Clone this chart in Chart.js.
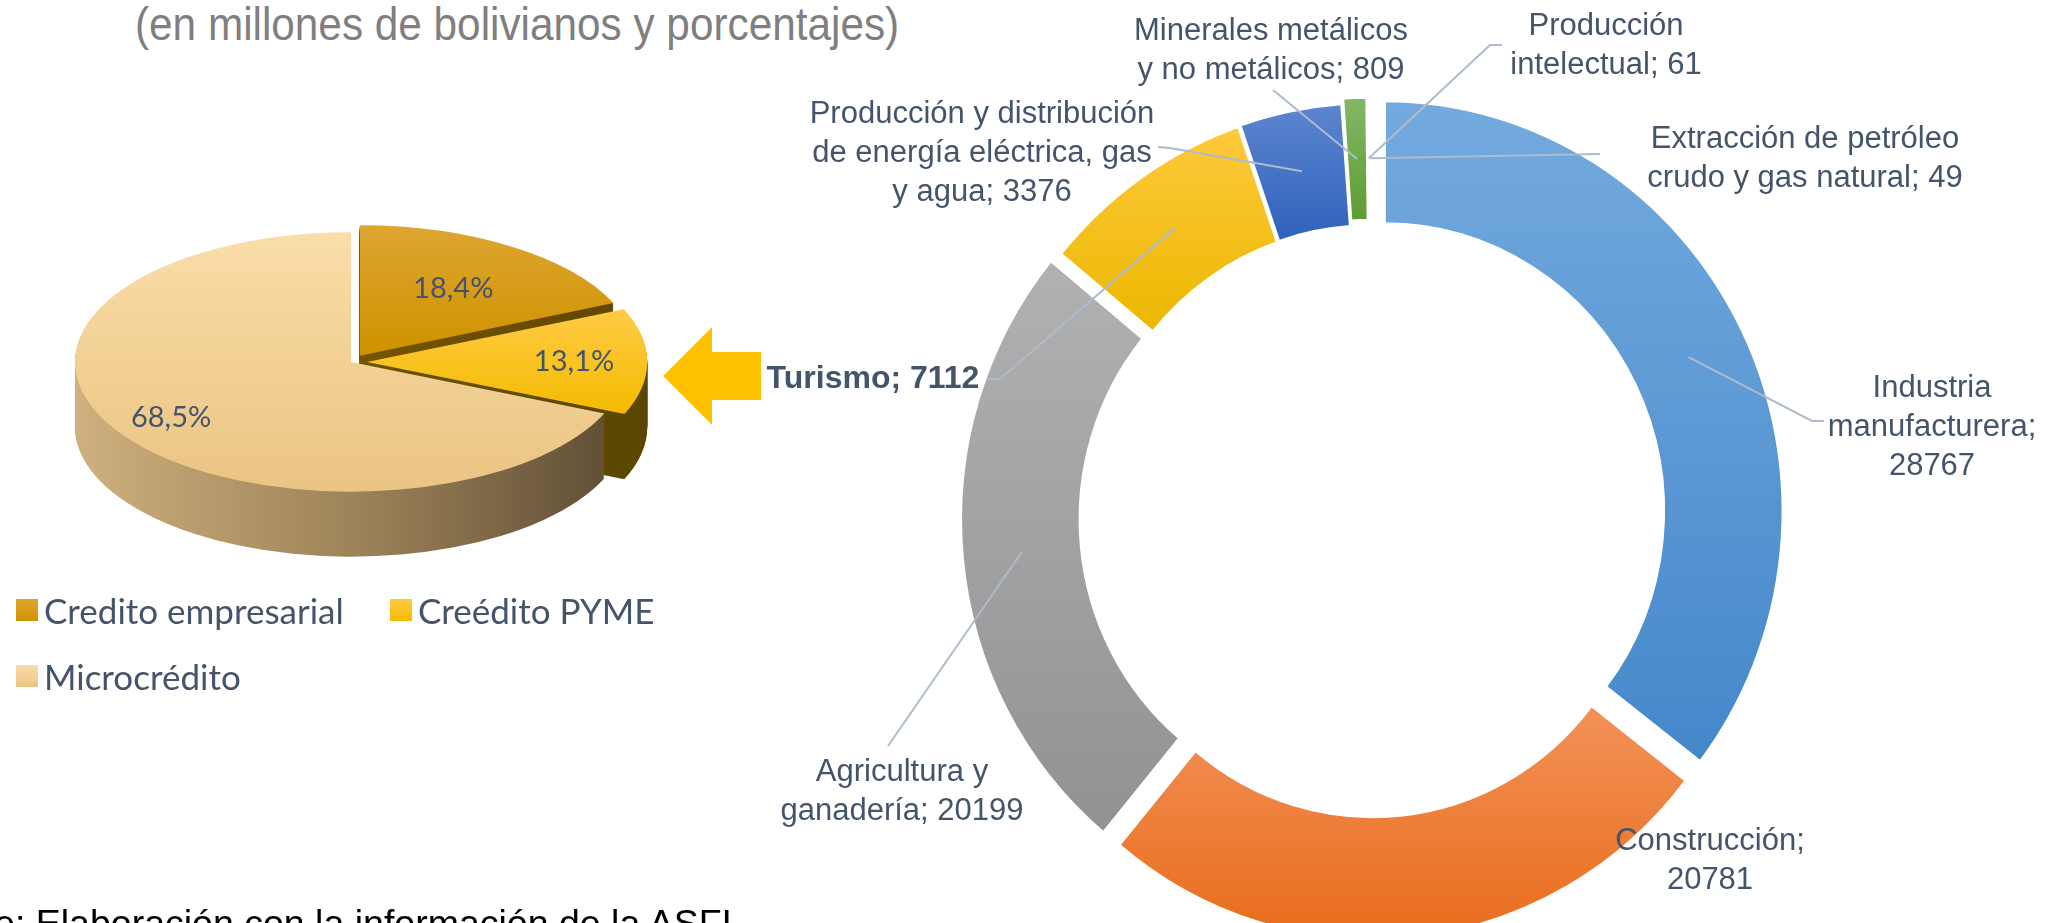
<!DOCTYPE html>
<html>
<head>
    <title>Cartera por destino del crédito</title>
    <meta charset="utf-8">
    <script src="https://cdn.jsdelivr.net/npm/chart.js@4.4.0/dist/chart.umd.min.js"></script>
    <style>
        body {
            margin: 0;
            width: 2051px;
            height: 923px;
            overflow: hidden;
            background: #fff;
            position: relative;
        }
        canvas {
            position: absolute;
            left: 0;
            top: 0;
        }
        #titulo {
            position: absolute;
            left: 135px;
            top: 0;
            font: 47px/47px "Liberation Sans", Arial, sans-serif;
            color: #7f7f7f;
            white-space: nowrap;
            transform: scaleX(0.9);
            transform-origin: left top;
        }
        #fuente {
            position: absolute;
            right: 1319px;
            top: 904px;
            font: 37.5px/38px "Liberation Sans", Arial, sans-serif;
            color: #000;
            white-space: nowrap;
        }
        #leyenda {
            position: absolute;
            left: 16px;
            top: 588px;
            width: 700px;
            display: flex;
            flex-wrap: wrap;
            font: 35px Lato, "Open Sans", sans-serif;
            color: #44546a;
        }
        .item {
            display: flex;
            align-items: center;
            height: 44px;
            width: 300px;
            margin-bottom: 22px;
            white-space: nowrap;
        }
        .item:first-child {
            width: 374px;
        }
        .cuadro {
            width: 22px;
            height: 22px;
            margin-right: 6px;
        }
    </style>
</head>
<body>
    <div id="titulo">(en millones de bolivianos y porcentajes)</div>
    <canvas id="tortaCredito" width="700" height="700"></canvas>
    <div id="leyenda"></div>
    <canvas id="anilloSectores" width="2051" height="923"></canvas>
    <div id="fuente">Fuente: Elaboración con la información de la ASFI</div>

    <script>
        // --- datos: cartera por tipo de crédito (%)
        const tiposCredito = ['Credito empresarial', 'Creédito PYME', 'Microcrédito'];
        const participacion = [18.4, 13.1, 68.5];

        // --- datos: crédito empresarial por sector (millones de Bs)
        const sectores = [
            'Industria manufacturera',
            'Construcción',
            'Agricultura y ganadería',
            'Turismo',
            'Producción y distribución de energía eléctrica, gas y agua',
            'Minerales metálicos y no metálicos',
            'Producción intelectual',
            'Extracción de petróleo crudo y gas natural'
        ];
        const montos = [28767, 20781, 20199, 7112, 3376, 809, 61, 49];

        // colores (arriba claro -> abajo oscuro, como el degradado de Excel)
        const sectorClaro = ['#74aade', '#f28f55', '#b1b1b1', '#ffc93d', '#5e86d0', '#84b767', '#2e4f88', '#a9521a'];
        const sectorOscuro = ['#4588ca', '#e86a18', '#929292', '#ebb800', '#2f62bb', '#5d9c33', '#203a68', '#8e3e0b'];
        const desplazamiento = [60, 56, 60, 20, 18, 27, 27, 27];

        const creditoClaro = ['#dfa634', '#ffcb45', '#fadda8'];
        const creditoOscuro = ['#cf9300', '#f3bb00', '#eac483'];
        const creditoLado = [
            ['#8a6400', '#5e4500'],
            ['#7a6000', '#5a4600'],
            ['#cfb07e', '#9c8258', '#584731']
        ];
        const radioRotulo = [0.62, 0.75, 0.78];

        // posiciones de los rótulos del anillo (centro x, y de la primera línea, ancho máx, guía)
        const etiquetas = [
            {x: 1932, y: 388, ancho: 240, guia: [[1824, 421], [1812, 421]]},
            {x: 1710, y: 841, ancho: 230, guia: []},
            {x: 902, y: 772, ancho: 260, guia: [[888, 746]]},
            {x: 873, y: 379, ancho: 400, guia: [[988, 379], [1000, 379]], negrita: true},
            {x: 982, y: 114, ancho: 352, guia: [[1158, 147], [1170, 148]]},
            {x: 1271, y: 31, ancho: 285, guia: [[1273, 90]]},
            {x: 1606, y: 26, ancho: 200, guia: [[1502, 45], [1490, 45]]},
            {x: 1805, y: 139, ancho: 330, guia: [[1600, 154]]}
        ];

        const K = 0.47;       // inclinación de la torta 3D
        const GROSOR = 65;    // espesor de la torta 3D
        const ESTIRA = 1.03;  // el anillo original está un poco estirado en vertical

        // degradado vertical por porción, según la geometría del propio arco
        function degradado(c, claro, oscuro) {
            const arc = c.element;
            const i = c.dataIndex;
            if (!arc || arc.outerRadius === undefined) return oscuro[i];
            const o = desplazamientoDe(c.dataset, i) / 4;
            const mid = (arc.startAngle + arc.endAngle) / 2;
            const cy = arc.y + Math.sin(mid) * o;
            let top = Infinity, bottom = -Infinity;
            for (let k = 0; k <= 24; k++) {
                const a = arc.startAngle + (arc.endAngle - arc.startAngle) * k / 24;
                [arc.innerRadius, arc.outerRadius].forEach(r => {
                    const yy = cy + Math.sin(a) * r;
                    top = Math.min(top, yy);
                    bottom = Math.max(bottom, yy);
                });
            }
            const g = c.chart.ctx.createLinearGradient(0, top, 0, bottom);
            g.addColorStop(0, claro[i]);
            g.addColorStop(1, oscuro[i]);
            return g;
        }

        function desplazamientoDe(dataset, i) {
            return Array.isArray(dataset.offset) ? (dataset.offset[i] || 0) : (dataset.offset || 0);
        }

        function centroPorcion(arc) {
            const o = (arc.options.offset || 0) / 4;
            const mid = (arc.startAngle + arc.endAngle) / 2;
            const fix = 1 - Math.sin(Math.min(Math.PI, arc.circumference));
            const r = (arc.innerRadius + arc.outerRadius) / 2 + o * fix;
            const x = arc.x + Math.cos(mid) * o;
            const y = arc.y + Math.sin(mid) * o;
            return {x: x + Math.cos(mid) * r, y: y + Math.sin(mid) * r};
        }

        function partirTexto(ctx, texto, ancho) {
            const palabras = texto.split(' ');
            const lineas = [];
            let actual = '';
            palabras.forEach(p => {
                const prueba = actual ? actual + ' ' + p : p;
                if (actual && ctx.measureText(prueba).width > ancho) {
                    lineas.push(actual);
                    actual = p;
                } else {
                    actual = prueba;
                }
            });
            lineas.push(actual);
            return lineas;
        }

        function trazarPorcion(ctx, arc) {
            const o = (arc.options.offset || 0) / 4;
            const mid = (arc.startAngle + arc.endAngle) / 2;
            const fix = 1 - Math.sin(Math.min(Math.PI, arc.circumference));
            const r = arc.outerRadius + o * fix;
            const x = arc.x + Math.cos(mid) * o;
            const y = arc.y + Math.sin(mid) * o;
            ctx.beginPath();
            ctx.moveTo(x, y);
            ctx.arc(x, y, r, arc.startAngle, arc.endAngle);
            ctx.closePath();
        }

        function escalarY(ctx, x, y, s) {
            ctx.translate(x, y);
            ctx.scale(1, s);
            ctx.translate(-x, -y);
        }

        // torta en perspectiva: cara lateral por capas + cara superior aplastada
        const torta3D = {
            id: 'torta3D',
            beforeDatasetsDraw(chart) {
                const ctx = chart.ctx;
                const arcs = chart.getDatasetMeta(0).data;
                const {x, y, outerRadius} = arcs[0];
                const lados = creditoLado.map(stops => {
                    const g = ctx.createLinearGradient(x - outerRadius, 0, x + outerRadius + 20, 0);
                    stops.forEach((col, j) => g.addColorStop(j / (stops.length - 1), col));
                    return g;
                });
                for (let d = GROSOR; d >= 1; d--) {
                    ctx.save();
                    ctx.translate(0, d);
                    escalarY(ctx, x, y, K);
                    arcs.forEach((arc, i) => {
                        trazarPorcion(ctx, arc);
                        ctx.fillStyle = lados[i];
                        ctx.fill();
                    });
                    ctx.restore();
                }
                ctx.save();
                escalarY(ctx, x, y, K);
            },
            afterDatasetsDraw(chart) {
                const ctx = chart.ctx;
                ctx.restore();
                const arcs = chart.getDatasetMeta(0).data;
                ctx.save();
                ctx.font = '29px Lato, "Open Sans", sans-serif';
                ctx.fillStyle = '#44546a';
                ctx.textAlign = 'center';
                ctx.textBaseline = 'middle';
                arcs.forEach((arc, i) => {
                    const mid = (arc.startAngle + arc.endAngle) / 2;
                    const r = arc.outerRadius * radioRotulo[i] + (arc.options.offset || 0) / 4;
                    const px = arc.x + Math.cos(mid) * r;
                    const py = arc.y + Math.sin(mid) * r * K;
                    ctx.fillText(participacion[i].toFixed(1).replace('.', ',') + '%', px, py);
                });
                ctx.restore();
            }
        };

        const rotulosAnillo = {
            id: 'rotulosAnillo',
            beforeDatasetsDraw(chart) {
                // flecha amarilla que enlaza las dos gráficas
                const ctx = chart.ctx;
                ctx.save();
                ctx.fillStyle = '#ffc000';
                ctx.beginPath();
                ctx.moveTo(663, 376);
                ctx.lineTo(712, 327);
                ctx.lineTo(712, 352);
                ctx.lineTo(761, 352);
                ctx.lineTo(761, 400);
                ctx.lineTo(712, 400);
                ctx.lineTo(712, 425);
                ctx.closePath();
                ctx.fill();
                ctx.restore();

                const {x, y} = chart.getDatasetMeta(0).data[0];
                ctx.save();
                escalarY(ctx, x, y, ESTIRA);
            },
            afterDatasetsDraw(chart) {
                const ctx = chart.ctx;
                ctx.restore();
                const arcs = chart.getDatasetMeta(0).data;
                ctx.save();
                ctx.strokeStyle = '#adbbcd';
                ctx.lineWidth = 2;
                arcs.forEach((arc, i) => {
                    const e = etiquetas[i];
                    if (!e.guia.length) return;
                    const p = centroPorcion(arc);
                    ctx.beginPath();
                    ctx.moveTo(e.guia[0][0], e.guia[0][1]);
                    e.guia.slice(1).forEach(q => ctx.lineTo(q[0], q[1]));
                    ctx.lineTo(p.x, arc.y + (p.y - arc.y) * ESTIRA);
                    ctx.stroke();
                });
                ctx.fillStyle = '#44546a';
                ctx.textAlign = 'center';
                ctx.textBaseline = 'middle';
                arcs.forEach((arc, i) => {
                    const e = etiquetas[i];
                    ctx.font = (e.negrita ? 'bold 32px' : '31px') + ' "Liberation Sans", Arial, sans-serif';
                    const lineas = partirTexto(ctx, sectores[i] + '; ' + montos[i], e.ancho);
                    lineas.forEach((l, j) => ctx.fillText(l, e.x, e.y + j * 39));
                });
                ctx.restore();
            }
        };

        const torta = new Chart(document.getElementById('tortaCredito'), {
            type: 'pie',
            data: {
                labels: tiposCredito,
                datasets: [{
                    data: participacion,
                    backgroundColor: c => degradado(c, creditoClaro, creditoOscuro),
                    borderWidth: 0,
                    offset: [64, 64, 0],
                    clip: false
                }]
            },
            options: {
                responsive: false,
                animation: false,
                events: [],
                radius: 276,
                layout: {padding: {left: 75, right: 73, top: 86, bottom: 62}},
                plugins: {legend: {display: false}, tooltip: {enabled: false}}
            },
            plugins: [torta3D]
        });
        torta.update('none');

        const anillo = new Chart(document.getElementById('anilloSectores'), {
            type: 'doughnut',
            data: {
                labels: sectores,
                datasets: [{
                    data: montos,
                    backgroundColor: c => degradado(c, sectorClaro, sectorOscuro),
                    borderColor: '#ffffff',
                    borderWidth: 2,
                    offset: desplazamiento,
                    clip: false
                }]
            },
            options: {
                responsive: false,
                animation: false,
                events: [],
                radius: 395,
                cutout: '70%',
                layout: {padding: {left: 971, right: 280, top: 118, bottom: 5}},
                plugins: {legend: {display: false}, tooltip: {enabled: false}}
            },
            plugins: [rotulosAnillo]
        });
        anillo.update('none');

        // leyenda de la torta
        const leyenda = document.getElementById('leyenda');
        tiposCredito.forEach((t, i) => {
            const item = document.createElement('div');
            item.className = 'item';
            const cuadro = document.createElement('span');
            cuadro.className = 'cuadro';
            cuadro.style.background = `linear-gradient(${creditoClaro[i]}, ${creditoOscuro[i]})`;
            const texto = document.createElement('span');
            texto.textContent = t;
            item.appendChild(cuadro);
            item.appendChild(texto);
            leyenda.appendChild(item);
        });
    </script>
</body>
</html>
